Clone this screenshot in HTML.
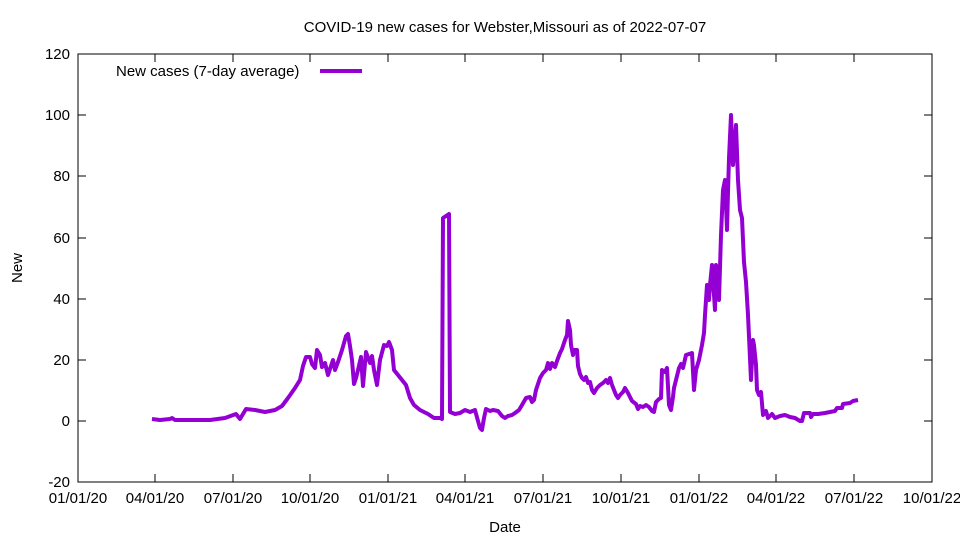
<!DOCTYPE html>
<html><head><meta charset="utf-8"><style>body{margin:0;background:#fff}svg{display:block}text{font-family:"Liberation Sans",sans-serif;font-size:15px;fill:#000}</style></head>
<body>
<svg width="960" height="540" viewBox="0 0 960 540" xmlns="http://www.w3.org/2000/svg">
<rect x="78" y="54" width="854" height="428" fill="none" stroke="#000" stroke-width="1"/>
<g stroke="#000" stroke-width="1">
<path d="M78 54h8M78 115h8M78 176h8M78 238h8M78 299h8M78 360h8M78 421h8M78 482h8M932 54h-8M932 115h-8M932 176h-8M932 238h-8M932 299h-8M932 360h-8M932 421h-8M932 482h-8"/>
<path d="M78 482v-8M155 482v-8M233 482v-8M310 482v-8M388 482v-8M465 482v-8M543 482v-8M621 482v-8M699 482v-8M776 482v-8M854 482v-8M932 482v-8M78 54v8M155 54v8M233 54v8M310 54v8M388 54v8M465 54v8M543 54v8M621 54v8M699 54v8M776 54v8M854 54v8M932 54v8"/>
</g>
<g text-anchor="end">
<text x="70" y="59">120</text><text x="70" y="120">100</text><text x="70" y="181">80</text><text x="70" y="243">60</text><text x="70" y="304">40</text><text x="70" y="365">20</text><text x="70" y="426">0</text><text x="70" y="487">-20</text>
</g>
<g text-anchor="middle">
<text x="78" y="503">01/01/20</text><text x="155" y="503">04/01/20</text><text x="233" y="503">07/01/20</text><text x="310" y="503">10/01/20</text><text x="388" y="503">01/01/21</text><text x="465" y="503">04/01/21</text><text x="543" y="503">07/01/21</text><text x="621" y="503">10/01/21</text><text x="699" y="503">01/01/22</text><text x="776" y="503">04/01/22</text><text x="854" y="503">07/01/22</text><text x="932" y="503">10/01/22</text>
<text x="505" y="532">Date</text>
<text x="505" y="32">COVID-19 new cases for Webster,Missouri as of 2022-07-07</text>
</g>
<text x="22" y="268" text-anchor="middle" transform="rotate(-90 22 268)">New</text>
<text x="116" y="76">New cases (7-day average)</text>
<path d="M320 71h42" stroke="#9400d3" stroke-width="4"/>
<polyline fill="none" stroke="#9400d3" stroke-width="4" stroke-linejoin="round" points="152,419 160,420 170,419 172,418 175,420 190,420 210,420 225,418 236,414 240,419 246,409 255,410 265,412 275,410 282,406 288,398 295,388 300,380 303,366 306,357 310,357 312,364 315,368 317,350 320,355 322,367 325,363 328,375 330,369 333,360 335,370 338,362 342,350 346,336 348,334 350,346 352,360 354,384 356,378 358,370 361,357 363,386 366,352 370,363 372,356 374,370 377,385 380,360 384,345 387,346 389,342 392,350 394,370 398,375 402,380 406,385 410,398 414,405 420,410 428,414 434,418 440,418 442,419 443,218 449,214 450,412 455,414 460,413 465,410 470,412 475,410 478,421 480,428 482,430 484,418 486,409 490,411 493,410 498,411 502,416 505,418 508,416 512,415 515,413 519,410 522,405 526,398 530,397 532,402 534,400 536,390 540,378 543,373 546,370 548,363 550,369 552,363 555,367 557,361 560,353 562,349 565,340 567,335 568,321 570,330 571,345 573,355 574,350 577,350 578,366 580,374 582,378 584,380 586,377 588,383 590,382 592,390 594,393 597,388 600,385 603,383 606,380 608,383 610,378 612,385 614,390 616,395 618,398 620,395 623,392 625,388 628,393 632,401 636,404 638,409 640,406 643,407 646,405 649,407 652,411 654,412 656,402 659,399 661,398 662,370 665,372 667,368 669,405 671,410 673,397 674,388 676,380 679,368 681,364 683,368 686,355 689,354 692,353 694,390 696,370 699,360 702,345 704,333 705,315 707,285 709,300 710,285 712,265 715,310 716,265 719,300 721,235 723,190 725,180 727,230 728,192 729,158 731,115 733,165 735,140 736,125 738,180 740,210 742,218 744,262 746,282 748,315 751,380 753,340 754,345 756,365 757,390 759,395 761,392 763,415 766,411 768,418 772,414 775,418 780,416 785,415 790,417 795,418 800,421 802,421 804,413 810,413 811,417 813,414 818,414 825,413 830,412 835,411 837,408 842,408 843,404 850,403 853,401 858,400"/>
</svg>
</body></html>
